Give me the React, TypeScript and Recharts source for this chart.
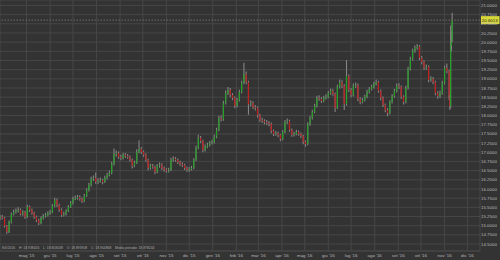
import { ComposedChart, Bar, XAxis, YAxis, CartesianGrid, ReferenceLine } from 'recharts';

// USD/MXN candles, one candle per 3 calendar days (last four are daily)
const START = Date.UTC(2015, 2, 27);
const firstOpen = 15.2;

const closes = [
  15.24, 15.21, 14.99, 14.83, 15.10, 15.32, 15.37, 15.40, 15.43, 15.32,
  15.37, 15.24, 15.51, 15.43, 15.34, 15.24, 15.15, 15.07, 15.21, 15.26,
  15.29, 15.34, 15.37, 15.54, 15.70, 15.56, 15.43, 15.29, 15.32, 15.40,
  15.51, 15.62, 15.73, 15.75, 15.78, 15.73, 15.67, 15.81, 15.97, 16.11,
  16.27, 16.30, 16.19, 16.22, 16.24, 16.19, 16.30, 16.38, 16.43, 16.68,
  16.95, 16.98, 16.87, 16.84, 16.93, 16.90, 16.87, 16.79, 16.63, 16.71,
  17.01, 17.09, 17.01, 16.93, 16.79, 16.57, 16.63, 16.60, 16.46, 16.63,
  16.66, 16.57, 16.52, 16.49, 16.52, 16.79, 16.82, 16.79, 16.73, 16.68,
  16.65, 16.57, 16.52, 16.54, 16.57, 16.79, 17.12, 17.39, 17.31, 17.06,
  17.15, 17.20, 17.25, 17.28, 17.42, 17.61, 17.93, 17.90, 18.34, 18.61,
  18.70, 18.56, 18.48, 18.26, 18.42, 18.64, 18.89, 19.13, 18.91, 18.31,
  18.34, 18.23, 18.21, 18.01, 17.88, 17.85, 17.82, 17.80, 17.77, 17.58,
  17.50, 17.52, 17.47, 17.36, 17.55, 17.82, 17.85, 17.61, 17.47, 17.50,
  17.55, 17.50, 17.44, 17.28, 17.22, 17.77, 17.93, 18.10, 18.26, 18.48,
  18.45, 18.40, 18.48, 18.51, 18.61, 18.67, 18.59, 18.21, 18.78, 18.91,
  18.81, 18.31, 19.08, 18.70, 18.56, 18.81, 18.83, 18.45, 18.37, 18.42,
  18.51, 18.64, 18.72, 18.78, 18.86, 18.91, 18.67, 18.48, 18.29, 18.15,
  18.07, 18.37, 18.53, 18.67, 18.81, 18.78, 18.51, 18.37, 18.75, 19.27,
  19.54, 19.76, 19.84, 19.88, 19.57, 19.46, 19.30, 19.33, 18.97, 19.00,
  18.91, 18.61, 18.53, 18.61, 18.89, 19.30, 19.21, 18.48,
  18.25, 19.90, 20.05, 20.60,
];

const highs = [
  15.30, 15.29, 15.24, 15.02, 15.14, 15.36, 15.44, 15.47, 15.50, 15.47,
  15.42, 15.40, 15.57, 15.55, 15.47, 15.38, 15.28, 15.19, 15.26, 15.32,
  15.35, 15.39, 15.43, 15.60, 15.76, 15.74, 15.60, 15.47, 15.38, 15.45,
  15.56, 15.67, 15.79, 15.82, 15.84, 15.83, 15.77, 15.86, 16.02, 16.17,
  16.33, 16.37, 16.45, 16.29, 16.31, 16.28, 16.36, 16.44, 16.50, 16.74,
  17.10, 17.05, 17.02, 16.93, 16.99, 16.98, 16.95, 16.91, 16.83, 16.77,
  17.08, 17.33, 17.14, 17.05, 16.97, 16.82, 16.69, 16.68, 16.64, 16.68,
  16.72, 16.70, 16.61, 16.57, 16.58, 16.85, 16.89, 16.87, 16.83, 16.77,
  16.73, 16.69, 16.61, 16.60, 16.63, 16.84, 17.18, 17.48, 17.44, 17.34,
  17.21, 17.26, 17.31, 17.34, 17.48, 17.67, 17.99, 18.00, 18.40, 18.68,
  18.78, 18.75, 18.61, 18.52, 18.48, 18.70, 18.95, 19.44, 19.20, 18.95,
  18.42, 18.39, 18.29, 18.25, 18.05, 17.94, 17.90, 17.88, 17.85, 17.81,
  17.62, 17.58, 17.56, 17.50, 17.60, 17.88, 17.92, 17.89, 17.65, 17.56,
  17.61, 17.59, 17.54, 17.48, 17.32, 17.82, 17.99, 18.16, 18.32, 18.54,
  18.55, 18.50, 18.54, 18.58, 18.67, 18.74, 18.72, 18.63, 18.84, 18.98,
  18.96, 18.85, 19.51, 19.12, 18.75, 18.87, 18.90, 18.87, 18.50, 18.48,
  18.57, 18.70, 18.78, 18.84, 18.92, 18.98, 18.95, 18.71, 18.52, 18.33,
  18.20, 18.42, 18.59, 18.73, 18.87, 18.88, 18.82, 18.55, 18.81, 19.33,
  19.60, 19.82, 19.91, 19.95, 19.92, 19.62, 19.50, 19.39, 19.37, 19.07,
  19.05, 18.95, 18.66, 18.68, 18.95, 19.36, 19.42, 19.25,
  18.55, 20.45, 20.30, 20.80,
];

const lows = [
  15.15, 15.17, 14.95, 14.78, 14.80, 15.06, 15.28, 15.33, 15.36, 15.28,
  15.27, 15.19, 15.21, 15.38, 15.30, 15.19, 15.10, 15.02, 15.04, 15.17,
  15.22, 15.25, 15.30, 15.34, 15.50, 15.51, 15.38, 15.24, 15.25, 15.28,
  15.37, 15.48, 15.58, 15.69, 15.71, 15.68, 15.62, 15.64, 15.78, 15.93,
  16.07, 16.22, 16.14, 16.13, 16.17, 16.13, 16.16, 16.26, 16.34, 16.40,
  16.64, 16.88, 16.82, 16.78, 16.80, 16.85, 16.82, 16.74, 16.56, 16.59,
  16.68, 16.97, 16.95, 16.88, 16.74, 16.51, 16.53, 16.55, 16.40, 16.43,
  16.58, 16.52, 16.47, 16.44, 16.45, 16.49, 16.74, 16.74, 16.68, 16.63,
  16.60, 16.52, 16.47, 16.47, 16.50, 16.54, 16.76, 17.08, 17.25, 17.00,
  17.02, 17.11, 17.16, 17.21, 17.24, 17.38, 17.57, 17.84, 17.86, 18.30,
  18.56, 18.50, 18.42, 18.20, 18.22, 18.38, 18.60, 18.85, 18.85, 18.02,
  18.25, 18.18, 18.14, 17.95, 17.83, 17.80, 17.76, 17.74, 17.71, 17.52,
  17.44, 17.45, 17.41, 17.30, 17.33, 17.52, 17.77, 17.56, 17.42, 17.43,
  17.46, 17.45, 17.39, 17.22, 17.15, 17.19, 17.72, 17.89, 18.06, 18.22,
  18.40, 18.34, 18.36, 18.44, 18.47, 18.57, 18.54, 18.10, 18.18, 18.74,
  18.75, 18.15, 18.27, 18.64, 18.50, 18.52, 18.75, 18.39, 18.31, 18.33,
  18.38, 18.47, 18.60, 18.68, 18.74, 18.82, 18.62, 18.42, 18.23, 18.09,
  17.98, 18.03, 18.33, 18.49, 18.63, 18.72, 18.45, 18.30, 18.33, 18.71,
  19.23, 19.50, 19.71, 19.79, 19.51, 19.40, 19.24, 19.25, 18.91, 18.92,
  18.85, 18.55, 18.46, 18.48, 18.57, 18.85, 19.15, 18.42,
  18.15, 18.20, 19.75, 20.00,
];

const lastDays = [592, 593, 594, 595];

const monthLabels = [
  "mag '15", "giu '15", "lug '15", "ago '15", "set '15", "ott '15", "nov '15", "dic '15",
  "gen '16", "feb '16", "mar '16", "apr '16", "mag '16", "giu '16", "lug '16", "ago '16",
  "set '16", "ott '16", "nov '16", "dic '16",
];

const yTicks = [
  14.5, 14.75, 15, 15.25, 15.5, 15.75, 16, 16.25, 16.5, 16.75, 17, 17.25, 17.5, 17.75,
  18, 18.25, 18.5, 18.75, 19, 19.25, 19.5, 19.75, 20, 20.25, 20.5, 20.75, 21,
];

const lastValue = 20.6;
const lastLabel = '20.6013';
const statusLine = '8/4/2016    H: 18.938416    L: 18.803038    O: 18.893908    C: 18.904868    Media periodo: 18.878244';

const DAY = 86400000;
const monthTicks = monthLabels.map((_, i) => (Date.UTC(2015, 4 + i, 1) - START) / DAY);
const regularCount = closes.length - lastDays.length;

const data = closes.map((c, i) => ({
  day: i < regularCount ? i * 3 : lastDays[i - regularCount],
  open: i === 0 ? firstOpen : closes[i - 1],
  close: c,
  high: highs[i],
  low: lows[i],
  range: [lows[i], highs[i]],
}));

const font = '"Liberation Sans", Arial, sans-serif';

function Candle(props: any) {
  const { x, y, width, height, payload } = props;
  const top = Math.min(y, y + height);
  const h = Math.abs(height);
  const { open, close, high, low } = payload;
  const k = h / (high - low || 1);
  const yOf = (v: number) => top + (high - v) * k;
  const cx = x + width / 2;
  const up = close >= open;
  const bTop = yOf(Math.max(open, close));
  const bH = Math.max(1, Math.abs(open - close) * k);
  return (
    <g>
      <line x1={cx} x2={cx} y1={top} y2={top + h} stroke="#848484" strokeWidth={1.1} />
      <rect x={cx - 0.6} y={bTop} width={1.2} height={bH} fill={up ? '#26a026' : '#c02020'} />
    </g>
  );
}

function CurrentTag({ viewBox }: any) {
  const left = viewBox.x + viewBox.width + 1;
  return (
    <g>
      <rect x={left} y={viewBox.y - 4} width={18.5} height={8} fill="#d8d83a" />
      <text x={left + 0.8} y={viewBox.y} dy="0.35em" fontSize={4.4} fill="#222" fontFamily={font}>
        {lastLabel}
      </text>
    </g>
  );
}

export default function App() {
  return (
    <div style={{ position: 'fixed', left: 0, top: 0, width: 500, height: 260, background: '#333333' }}>
      <ComposedChart width={500} height={260} data={data} margin={{ top: 0, right: 0, left: 0, bottom: 0 }}>
        <CartesianGrid stroke="#474747" strokeWidth={1} />
        <XAxis
          type="number"
          dataKey="day"
          domain={[0, 631.6]}
          allowDataOverflow
          ticks={monthTicks}
          interval={0}
          tickFormatter={(v: number) => monthLabels[monthTicks.indexOf(v)] ?? ''}
          height={9}
          tickSize={0}
          tickMargin={3}
          axisLine={{ stroke: '#474747' }}
          tick={{ fontSize: 4.4, fill: '#b8b8b8', fontFamily: font }}
        />
        <YAxis
          orientation="right"
          type="number"
          domain={[14.31, 21.148]}
          allowDataOverflow
          ticks={yTicks}
          interval={0}
          width={20}
          tickSize={0}
          tickMargin={1}
          axisLine={false}
          tickFormatter={(v: number) => v.toFixed(4)}
          tick={{ fontSize: 4.4, fill: '#b8b8b8', fontFamily: font, textAnchor: 'start' }}
        />
        <ReferenceLine
          y={lastValue}
          stroke="#6e6e6e"
          strokeDasharray="1.5 1.5"
          label={(p: any) => <CurrentTag viewBox={p.viewBox} />}
        />
        <Bar dataKey="range" shape={Candle} barSize={2} isAnimationActive={false} />
      </ComposedChart>
      <div
        style={{
          position: 'absolute',
          left: 2,
          top: 246,
          fontSize: 3.4,
          lineHeight: '4px',
          color: '#a8a8a8',
          fontFamily: font,
          whiteSpace: 'pre',
        }}
      >
        {statusLine}
      </div>
    </div>
  );
}
